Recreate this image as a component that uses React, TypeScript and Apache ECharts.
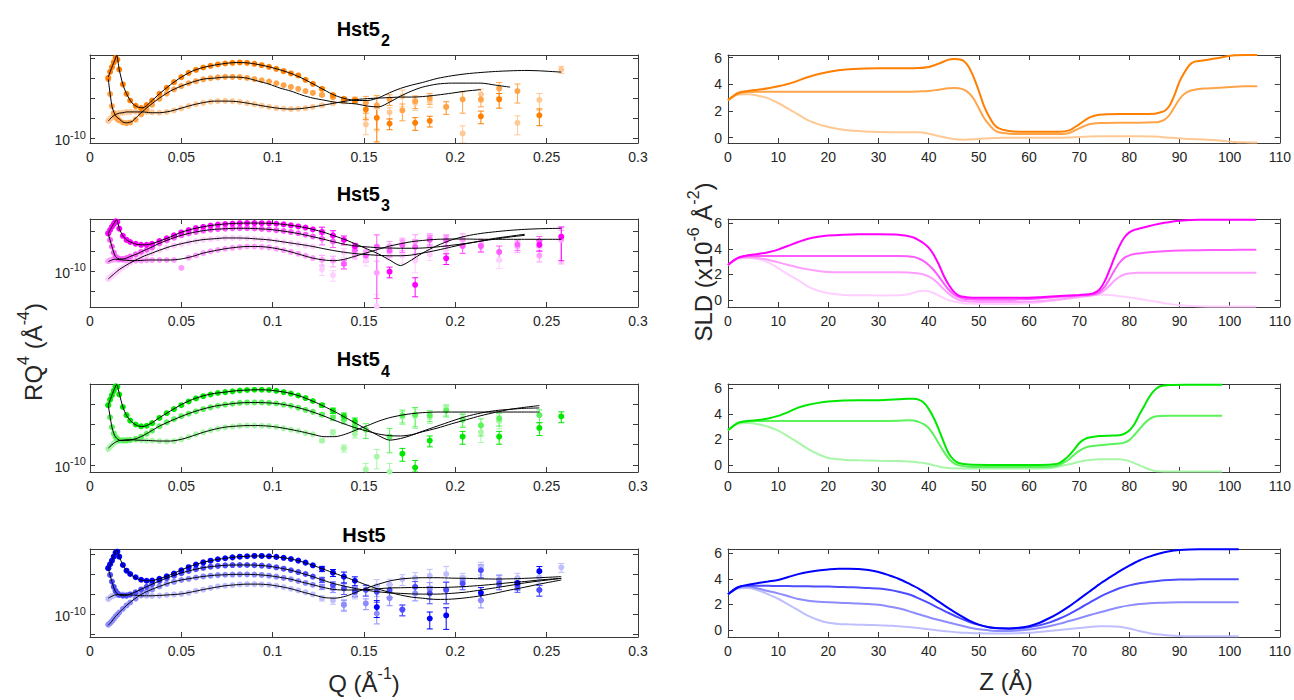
import { useEffect, useRef } from 'react';
import * as echarts from 'echarts';

// ---------------- shared Q grids (Å^-1) ----------------
const qPts = [0.010,0.011,0.012,0.013,0.014,0.015,0.016,0.018,0.020,0.022,0.025,0.028,0.031,0.034,0.038,0.042,0.046,0.050,0.054,0.058,0.062,0.066,0.070,0.074,0.078,0.082,0.086,0.090,0.094,0.098,0.102,0.106,0.110,0.114,0.118,0.122,0.127,0.133,0.139,0.145,0.151,0.157,0.164,0.171,0.178,0.186,0.195,0.204,0.214,0.224,0.234,0.246,0.258];
const qFit = [0.010,0.012,0.0135,0.0146,0.016,0.018,0.020,0.023,0.026,0.029,0.033,0.038,0.044,0.050,0.056,0.062,0.068,0.074,0.080,0.086,0.092,0.098,0.104,0.110,0.116,0.122,0.128,0.134,0.140,0.146,0.152,0.158,0.164,0.170,0.176,0.182,0.190,0.198,0.206,0.214,0.222,0.230,0.238,0.246,0.258];
const ERR_START = 36; // error bars from Q = 0.127 on

// RQ^4 values in units of 1e-10 Å^-4
// ---------------- Hst5_2 ----------------
const hst52DataA = [32.2,45.5,59.6,78,102,92.6,52,22,12.8,8.7,6.4,5.6,6.7,8.7,12.8,18.1,25.1,33.5,43.0,51.1,58.4,64.3,69.5,73.6,76.4,78,76.4,72.1,66.8,60.7,54.1,47.3,41.5,36.9,28.7,22.8,17.1,11.9,9.6,8.9,5.2,3.2,2.3,null,2.4,2.7,null,null,3.5,9.3,null,3.7,null];
const hst52DataB = [30,12.6,6.3,4.2,3.4,3.0,2.75,2.45,2.35,2.45,2.9,3.9,5.2,6.8,9.6,13,16.5,20,23.5,26.5,29.5,31.5,33,34,34,33.5,32,30,28,26,23.5,21,19,17,15,13.5,12,10.5,9,8.4,7.6,6.6,9.3,4.9,8.4,10,6.0,9.3,9.3,17.5,15,null,null];
const hst52DataC = [2.7,3.0,3.3,3.6,3.9,4.1,4.2,4.3,4.5,4.5,4.6,4.5,4.5,4.4,4.3,4.5,4.9,5.5,6.3,7.0,7.6,8.1,8.4,8.5,8.4,8.0,7.5,7.0,6.5,6.0,5.6,5.4,5.3,5.4,5.6,6.0,6.6,7.4,8.2,9.5,2.2,6.0,4.4,11.0,7.6,8.4,6.0,1.3,12.4,null,2.4,9.0,52];
const hst52FitA = [33.5,59.6,87.4,119,52,22,12.8,7.6,6.0,5.7,7.9,12.8,21.5,33.5,47.3,58.4,66.8,73.6,78,76.4,69.5,60.7,51.1,41.5,31.6,22.8,16.2,11.7,9.6,8.7,8.7,10.2,13.6,17.5,21.1,24.6,31.0,36.2,40.6,43.8,46.4,48.2,49.2,48.2,44.7];
const hst52FitB = [30,6.3,4.0,3.35,3.0,2.5,2.4,2.6,3.5,4.7,6.7,10,15.0,20,25.1,29.9,31.6,33.5,33.5,31.6,26.6,22.4,17.8,15.0,11.9,10,8.9,7.9,7.5,7.1,6.3,6.0,7.9,11.2,15.0,18.8,22.4,23.7,23.7,23.7,21.1,18.8,null,null,null];
const hst52FitC = [2.66,3.35,3.76,3.98,4.2,4.3,4.5,4.5,4.5,4.5,4.3,4.3,4.7,5.6,6.7,7.7,8.4,8.4,8.2,7.5,6.7,6.0,5.5,5.3,5.5,6.0,6.7,7.5,8.4,9.2,9.7,10,10.3,10.6,10.6,10.9,11.9,13.3,15.0,16.3,null,null,null,null,null];
const hst52Err = [0.06,0.06,0.08,0.12,0.45,0.75,0.3,0.45,0.35,0.3,0.35,0.55,0.35,0.4,0.5,0.45,0.2];

// ---------------- Hst5_3 ----------------
const hst53DataA = [8.7,10.6,12.8,15.0,17.5,17.0,11.5,7.6,6.0,5.3,4.8,4.5,4.5,4.8,5.6,6.6,7.8,9.2,10.6,11.8,12.8,13.7,14.5,15.0,15.4,15.7,15.8,15.8,15.7,15.6,15.2,14.7,13.9,13.0,12.2,11.0,9.6,7.8,6.0,4.1,null,null,0.96,null,0.45,null,2.07,null,null,null,null,4.5,7.2];
const hst53DataB = [8.7,6.0,4.1,2.9,2.3,2.1,2.0,2.0,2.1,2.3,2.6,3.0,3.4,3.9,4.9,5.8,6.8,7.8,8.7,9.5,10.2,10.8,11.2,11.5,11.7,11.8,11.8,11.6,11.3,11.0,10.5,10.0,9.4,8.8,8.1,7.3,6.4,5.5,1.5,3.3,2.4,4.1,3.2,4.4,4.0,6.0,5.8,4.2,4.2,3.0,4.6,5.6,null];
const hst53DataC = [1.75,1.85,1.9,1.95,1.95,1.95,1.92,1.88,1.85,1.82,1.8,1.82,1.85,1.87,1.88,1.88,1.88,1.2,2.15,2.45,2.8,3.1,3.35,3.6,3.8,3.95,4.1,4.1,4.0,3.9,3.6,3.3,3.0,2.7,2.4,2.1,1.9,1.8,1.5,2.5,3.0,0.9,4.2,4.9,5.4,6.6,6.2,6.3,4.4,null,4.1,2.4,6.0];
const hst53DataD = [0.63,0.70,0.76,0.82,0.90,0.98,1.06,1.22,1.4,1.58,1.85,2.2,2.5,2.8,3.3,3.8,4.3,4.7,5.2,5.6,6.0,6.3,6.5,6.7,6.7,6.7,6.6,6.4,6.2,6.0,5.7,5.3,5.0,4.7,4.3,4.1,1.1,0.79,2.9,2.9,1.9,0.13,2.7,2.4,1.8,2.6,3.3,4.4,5.0,1.9,null,4.0,6.5];
const hst53FitA = [8.7,12.8,16.5,19.3,11.7,7.6,6.0,5.1,4.6,4.5,4.7,5.6,7.1,9.3,11.2,12.8,14.1,15.0,15.6,15.8,15.8,15.6,15.0,13.9,12.6,11.0,9.3,7.5,6.0,4.6,3.5,2.66,1.88,1.36,1.88,2.8,4.3,6.0,7.5,8.7,9.6,10.4,11.0,11.4,11.7];
const hst53FitB = [8.7,4.1,2.5,2.15,2.0,2.0,2.1,2.4,2.7,3.16,3.8,4.9,6.3,7.8,9.1,10.2,11.0,11.4,11.7,11.7,11.4,11.0,10.2,9.3,8.3,7.2,6.2,5.3,4.6,4.2,4.0,3.8,3.75,3.7,3.7,3.75,4.0,4.4,4.9,5.6,6.3,7.1,7.8,null,null];
const hst53FitC = [1.71,1.88,1.96,1.96,1.92,1.88,1.85,1.81,1.81,1.85,1.88,1.88,1.88,2.0,2.3,2.8,3.2,3.6,3.9,4.1,4.1,3.9,3.5,3.0,2.5,2.1,1.88,1.81,2.0,2.4,2.9,3.5,4.2,4.8,5.4,5.8,6.2,6.3,6.3,6.2,6.2,6.2,6.2,6.2,6.2];
const hst53FitD = [0.63,0.76,0.87,0.96,1.08,1.24,1.41,1.68,1.96,2.3,2.7,3.3,4.1,4.8,5.5,6.1,6.4,6.7,6.7,6.6,6.3,6.0,5.5,5.0,4.55,4.1,3.6,3.2,2.9,2.7,2.56,2.46,2.4,2.4,2.5,2.8,3.3,4.0,4.8,5.6,6.6,7.4,8.3,null,null];
const hst53Err = [0.3,0.3,0.25,0.2,0.3,0.95,0.3,0.35,0.5,0.3,0.3,0.35,0.3,0.4,0.3,0.3,0.75];

// ---------------- Hst5_4 ----------------
const hst54DataA = [30,41,53,68,88,85,55,27,17,12.5,10,9.0,9.3,10.8,14.5,19,24,30,37,44,50,55,60,63,66,69,71,72,72,71,68,63,58,52,45,38,30,22,16,12,null,null,null,1.9,0.86,4.0,null,5.0,null,5.0,null,8.2,15.8];
const hst54DataB = [30,15,8.6,6.0,4.9,4.4,4.1,4.0,4.0,4.1,4.4,5.0,5.9,7.0,9.0,11.3,13.5,16,18.5,21,24,26.5,29,31,32.5,34,35,35,35,34,33,31,29,26,23,20.5,17.5,14.7,13,8.5,7.5,null,5.0,16.8,17.5,16.8,22,13,9.5,14,null,17,null];
const hst54DataC = [2.5,2.8,3.1,3.4,3.7,3.9,4.0,4.1,4.2,4.2,4.2,4.1,4.0,4.0,3.9,3.8,3.9,4.3,4.9,5.7,6.4,7.2,7.9,8.5,8.9,9.2,9.4,9.4,9.3,9.1,8.7,8.1,7.5,6.9,6.2,5.7,4.0,6.4,2.6,5.8,0.78,1.6,0.68,15.3,16,15,24,14,6.5,12,null,null,null];
const hst54FitA = [29.9,53.1,78,98,58.4,27.1,16.8,11.4,9.3,8.9,10.4,14.7,21.5,31.0,41.4,51.1,58.4,63.1,68.1,70.8,72.1,70.8,65.6,58.4,48.2,37.6,28.2,20.7,14.7,10.4,7.4,5.3,4.1,4.5,5.4,6.8,9.1,12.1,15.8,19.2,22.0,23.7,25.1,25.6,null];
const hst54FitB = [29.9,8.6,5.3,4.55,4.1,4.0,4.0,4.2,4.6,5.3,6.7,9.1,12.1,15.8,20.0,24.2,28.2,31.0,33.5,34.8,34.8,34.1,32.2,28.7,24.6,20.3,16.2,12.6,10.0,8.1,6.8,5.8,5.3,5.2,5.6,6.6,8.1,10.4,13.1,16.5,20.0,23.7,26.6,29.3,null];
const hst54FitC = [2.6,3.16,3.55,3.76,4.0,4.1,4.2,4.2,4.1,4.06,4.0,3.9,3.9,4.3,5.2,6.4,7.6,8.6,9.1,9.4,9.4,9.1,8.4,7.5,6.6,5.7,5.0,5.0,5.8,7.4,9.4,12.1,14.7,16.8,18.5,19.6,20.3,20.3,20.3,20.3,20.3,20.3,20.3,20.3,null];
const hst54Err = [0.1,0.15,0.2,0.2,0.4,0.5,0.6,0.35,0.5,0.3,0.3,0.35,0.45,0.35,0.3,0.35,0.3];

// ---------------- Hst5 ----------------
const hst5DataA = [14,17.5,21.5,27,34,36,27,16.8,12.1,10,8.3,7.2,6.8,6.9,7.6,8.8,10.3,12.4,14.8,17.2,19.5,21.5,23.3,24.7,26,27,27.7,28.2,28.2,27.7,26.7,25.3,23.7,21.6,19.2,16.5,13.5,10.8,8.6,6.8,null,1.5,null,null,null,0.78,0.93,null,3.4,null,6.0,11.8,null];
const hst5DataB = [14,9.5,6.5,4.8,3.8,3.3,3.0,2.9,2.9,3.1,3.5,4.1,4.8,5.6,6.7,7.9,9.1,10.5,11.9,13.2,14.3,15.2,15.9,16.4,16.7,16.8,16.8,16.6,16.2,15.6,14.7,13.6,12.4,11.2,10.0,8.6,7.2,5.3,4.4,3.6,4.0,3.6,4.0,1.3,4.8,3.3,4.0,5.8,12.4,5.8,5.0,4.0,null];
const hst5DataC = [0.55,0.6,0.67,0.76,0.88,0.97,1.1,1.36,1.65,1.95,2.45,3.0,3.6,4.1,4.9,5.7,6.4,7.1,7.6,8.2,8.7,9.1,9.4,9.6,9.7,9.8,9.8,9.7,9.5,9.1,8.6,8.0,7.4,6.7,6.0,5.4,4.8,4.3,1.7,3.8,1.85,1.04,2.5,1.3,3.3,4.2,4.1,6.8,2.2,7.0,5.6,4.0,null];
const hst5DataD = [2.4,2.6,2.8,2.9,3.0,3.05,3.1,3.1,3.05,3.0,2.95,2.9,2.87,2.87,2.9,3.0,3.1,3.2,3.4,3.8,4.1,4.5,4.9,5.1,5.3,5.5,5.6,5.6,5.5,5.4,5.1,4.7,4.3,3.9,3.5,3.1,2.5,2.2,1.8,3.2,4.2,5.0,5.5,7.4,8.0,9.0,10.0,8.0,14.5,7.5,8.0,8.4,14.7];
const hst5FitA = [13.9,21.5,31.6,39.8,27.1,16.8,12.1,9.1,7.6,6.9,6.8,7.6,9.6,12.6,16.2,19.6,22.4,24.6,26.6,27.7,28.2,27.7,26.1,23.7,20.3,16.5,13.1,10.4,8.3,6.6,5.2,4.2,3.5,3.0,2.66,2.5,2.33,2.37,2.56,2.87,3.35,4.0,4.7,5.6,7.1];
const hst5FitB = [13.9,6.4,4.0,3.3,3.0,2.87,2.93,3.3,3.76,4.4,5.3,6.7,8.6,10.6,12.6,14.4,15.6,16.5,16.8,16.8,16.5,15.6,14.1,12.4,10.4,8.6,6.9,5.7,4.9,4.3,3.9,3.6,3.4,3.3,3.2,3.16,3.16,3.3,3.55,4.0,4.55,5.2,6.0,6.7,7.8];
const hst5FitC = [0.53,0.67,0.83,0.94,1.1,1.36,1.65,2.15,2.7,3.3,4.0,4.9,6.1,7.1,7.9,8.7,9.3,9.6,9.8,9.8,9.6,9.1,8.3,7.4,6.3,5.4,4.6,4.1,4.0,4.0,4.1,4.3,4.5,4.55,4.6,4.6,4.6,4.7,4.9,5.2,5.6,6.1,6.5,7.1,7.8];
const hst5FitD = [2.5,2.8,3.0,3.05,3.1,3.1,3.05,3.0,2.93,2.87,2.87,2.93,3.05,3.2,3.6,4.1,4.6,5.1,5.4,5.6,5.6,5.4,4.9,4.3,3.6,3.05,2.6,2.5,2.8,3.55,4.55,5.6,6.7,7.5,7.9,8.1,8.1,7.9,7.8,7.6,7.5,7.6,7.8,8.1,8.6];
const hst5Err = [0.15,0.2,0.3,0.25,0.3,0.45,0.35,0.3,0.35,0.45,0.55,0.3,0.35,0.3,0.3,0.3,0.25];

// ---------------- SLD profiles (x1e-6 Å^-2) vs Z (Å) ----------------
const zHst52 = [0,2,4,6,8,10,13,16,19,22,25,30,35,38,40,42,44,45,46,47,48,49,50,51,52,53,54,56,58,62,66,68,70,72,74,78,82,85,86,87,88,89,90,91,92,93,95,98,101,103,105.5];
const sldHst52A = [2.8,3.35,3.5,3.6,3.7,3.85,4.15,4.55,4.85,5.05,5.15,5.2,5.2,5.22,5.3,5.55,5.85,5.9,5.88,5.75,5.3,4.5,3.5,2.4,1.6,1.0,0.7,0.5,0.45,0.45,0.45,0.55,1.0,1.5,1.72,1.78,1.78,1.8,1.88,2.0,2.4,3.2,4.2,4.9,5.45,5.7,5.8,6.0,6.18,6.2,6.2];
const sldHst52B = [2.8,3.3,3.42,3.45,3.45,3.45,3.45,3.45,3.45,3.45,3.45,3.45,3.45,3.47,3.5,3.6,3.7,3.72,3.7,3.6,3.35,2.9,2.2,1.5,1.0,0.6,0.4,0.3,0.28,0.28,0.28,0.35,0.7,1.0,1.1,1.12,1.12,1.15,1.2,1.35,1.7,2.3,2.9,3.3,3.5,3.6,3.68,3.75,3.82,3.85,3.85];
const sldHst52C = [2.8,3.22,3.25,3.15,2.95,2.6,1.95,1.3,0.9,0.65,0.52,0.43,0.4,0.4,0.3,0.12,-0.05,-0.1,-0.14,-0.15,-0.14,-0.12,-0.1,-0.07,-0.05,-0.03,-0.02,0,0,0,0,0.02,0.05,0.08,0.1,0.1,0.1,0.08,0.06,0.03,0,-0.02,-0.05,-0.08,-0.1,-0.11,-0.13,-0.22,-0.32,-0.35,-0.37];

const zHst53 = [0,2,4,6,8,10,12,14,16,18,20,23,26,30,34,36,37,38,39,40,41,42,43,44,45,46,47,48,50,54,58,62,66,70,72,73,74,75,76,77,78,79,80,81,82,84,87,90,94,98,102,105.3];
const sldHst53A = [2.75,3.3,3.5,3.6,3.75,3.95,4.25,4.55,4.8,4.95,5.05,5.12,5.15,5.15,5.12,5.0,4.9,4.7,4.45,4.1,3.55,2.8,1.9,1.2,0.65,0.35,0.25,0.2,0.18,0.18,0.18,0.22,0.32,0.4,0.45,0.55,0.8,1.4,2.3,3.3,4.2,4.9,5.3,5.5,5.6,5.8,6.05,6.22,6.3,6.3,6.3,6.3];
const sldHst53B = [2.75,3.3,3.42,3.45,3.45,3.45,3.45,3.45,3.45,3.45,3.45,3.45,3.45,3.45,3.45,3.42,3.38,3.25,3.05,2.75,2.35,1.85,1.3,0.8,0.45,0.22,0.1,0.05,0.02,0.02,0.05,0.12,0.25,0.35,0.4,0.45,0.6,1.0,1.6,2.3,2.9,3.3,3.5,3.6,3.65,3.75,3.83,3.88,3.9,3.92,3.93,3.93];
const sldHst53C = [2.75,3.28,3.35,3.3,3.15,2.95,2.75,2.55,2.4,2.28,2.2,2.18,2.18,2.18,2.17,2.15,2.12,2.08,2.0,1.85,1.6,1.25,0.85,0.5,0.2,0.02,-0.08,-0.12,-0.15,-0.16,-0.15,-0.1,0.05,0.25,0.33,0.38,0.5,0.75,1.1,1.5,1.8,2.0,2.08,2.12,2.13,2.14,2.14,2.13,2.13,2.13,2.13,2.13];
const sldHst53D = [2.75,3.25,3.3,3.2,2.95,2.5,2.0,1.55,1.05,0.72,0.52,0.4,0.37,0.36,0.37,0.45,0.58,0.68,0.72,0.68,0.55,0.35,0.15,-0.02,-0.12,-0.2,-0.25,-0.28,-0.3,-0.32,-0.3,-0.2,0.0,0.22,0.35,0.4,0.42,0.42,0.4,0.36,0.3,0.25,0.2,0.15,0.08,-0.05,-0.25,-0.42,-0.5,-0.52,-0.52,-0.52];

const zHst54 = [0,2,4,6,8,10,12,14,16,18,20,23,26,30,34,36,37,38,39,40,41,42,43,44,45,46,48,52,56,60,64,65,66,67,68,69,70,71,72,74,76,78,79,80,81,82,83,84,85,86,88,91,94,98.5];
const sldHst54A = [2.72,3.3,3.45,3.52,3.65,3.85,4.15,4.5,4.72,4.87,4.97,5.05,5.08,5.08,5.15,5.2,5.2,5.12,4.9,4.4,3.7,2.8,1.8,0.9,0.4,0.15,0.03,0.0,0.0,0.0,0.02,0.05,0.15,0.4,0.75,1.2,1.7,2.0,2.15,2.27,2.3,2.33,2.45,2.7,3.2,3.95,4.65,5.35,5.85,6.15,6.28,6.3,6.3,6.3];
const sldHst54B = [2.72,3.28,3.42,3.45,3.45,3.45,3.45,3.45,3.45,3.45,3.45,3.45,3.45,3.45,3.47,3.5,3.48,3.38,3.2,2.9,2.35,1.7,1.05,0.5,0.15,-0.03,-0.13,-0.16,-0.16,-0.16,-0.14,-0.1,0.0,0.2,0.45,0.8,1.1,1.32,1.45,1.55,1.62,1.68,1.75,1.95,2.35,2.8,3.25,3.6,3.78,3.84,3.86,3.86,3.86,3.86];
const sldHst54C = [2.72,3.25,3.3,3.2,3.0,2.7,2.25,1.75,1.25,0.85,0.55,0.42,0.37,0.33,0.31,0.28,0.25,0.2,0.15,0.08,-0.02,-0.12,-0.2,-0.24,-0.26,-0.27,-0.27,-0.27,-0.27,-0.27,-0.25,-0.2,-0.12,-0.02,0.05,0.15,0.25,0.33,0.4,0.45,0.45,0.45,0.4,0.3,0.15,-0.02,-0.2,-0.35,-0.45,-0.5,-0.52,-0.52,-0.52,-0.52];

const zHst5 = [0,2,4,6,8,10,12,14,16,18,20,22,24,26,28,30,32,34,36,38,40,42,44,46,48,50,52,54,56,58,60,62,64,66,68,70,72,74,76,78,80,82,84,86,88,90,92,94,97,101.8];
const sldHst5A = [2.8,3.35,3.55,3.68,3.8,3.92,4.15,4.38,4.55,4.67,4.75,4.8,4.8,4.78,4.7,4.55,4.3,4.02,3.65,3.25,2.75,2.22,1.7,1.2,0.75,0.42,0.22,0.13,0.12,0.18,0.3,0.55,0.92,1.35,1.85,2.42,3.0,3.58,4.1,4.6,5.05,5.45,5.75,6.0,6.17,6.27,6.32,6.33,6.33,6.33];
const sldHst5B = [2.8,3.35,3.47,3.47,3.46,3.45,3.44,3.43,3.42,3.41,3.4,3.38,3.36,3.33,3.3,3.25,3.15,3.0,2.8,2.48,2.12,1.72,1.33,0.97,0.65,0.4,0.22,0.13,0.1,0.12,0.22,0.36,0.58,0.88,1.25,1.68,2.12,2.58,2.95,3.27,3.5,3.67,3.78,3.87,3.92,3.95,3.96,3.97,3.97,3.97];
const sldHst5C = [2.8,3.3,3.4,3.25,3.05,2.87,2.65,2.43,2.3,2.22,2.17,2.14,2.11,2.08,2.03,1.97,1.85,1.7,1.48,1.23,1.0,0.78,0.58,0.39,0.2,0.06,-0.03,-0.08,-0.08,-0.04,0.03,0.15,0.3,0.48,0.7,0.92,1.15,1.37,1.58,1.78,1.93,2.03,2.1,2.14,2.16,2.17,2.17,2.17,2.17,2.17];
const sldHst5D = [2.8,3.25,3.3,3.12,2.8,2.45,2.0,1.55,1.1,0.78,0.56,0.47,0.44,0.42,0.4,0.38,0.34,0.3,0.24,0.15,0.06,-0.04,-0.12,-0.19,-0.23,-0.26,-0.27,-0.27,-0.27,-0.26,-0.22,-0.15,-0.08,-0.01,0.07,0.15,0.23,0.29,0.3,0.25,0.12,-0.08,-0.25,-0.36,-0.43,-0.47,-0.49,-0.5,-0.5,-0.5];

// ---------------- colours ----------------
const colHst52 = ['#FF7F00', '#FFA448', '#FFC995'];
const colHst53 = ['#FF00FF', '#FF5CFF', '#FF9EFF', '#FFD0FF'];
const colHst54 = ['#00E800', '#5CF25C', '#A8F7A8'];
const colHst5 = ['#0000FF', '#4D4DFF', '#8C8CFF', '#BFBFFF'];

const panels = [
  { title: 'Hst5', sub: '2', yMin: 0.75, yMax: 120, err: hst52Err, colors: colHst52,
    data: [hst52DataA, hst52DataB, hst52DataC], fits: [hst52FitA, hst52FitB, hst52FitC],
    z: zHst52, sld: [sldHst52A, sldHst52B, sldHst52C], sMin: -0.4, sMax: 6.2 },
  { title: 'Hst5', sub: '3', yMin: 0.125, yMax: 20, err: hst53Err, colors: colHst53,
    data: [hst53DataA, hst53DataB, hst53DataC, hst53DataD], fits: [hst53FitA, hst53FitB, hst53FitC, hst53FitD],
    z: zHst53, sld: [sldHst53A, sldHst53B, sldHst53C, sldHst53D], sMin: -0.55, sMax: 6.35 },
  { title: 'Hst5', sub: '4', yMin: 0.67, yMax: 100, err: hst54Err, colors: colHst54,
    data: [hst54DataA, hst54DataB, hst54DataC], fits: [hst54FitA, hst54FitB, hst54FitC],
    z: zHst54, sld: [sldHst54A, sldHst54B, sldHst54C], sMin: -0.55, sMax: 6.35 },
  { title: 'Hst5', sub: '', yMin: 0.27, yMax: 42, err: hst5Err, colors: colHst5,
    data: [hst5DataA, hst5DataB, hst5DataC, hst5DataD], fits: [hst5FitA, hst5FitB, hst5FitC, hst5FitD],
    z: zHst5, sld: [sldHst5A, sldHst5B, sldHst5C, sldHst5D], sMin: -0.55, sMax: 6.35 },
];

// ---------------- layout / style ----------------
const FONT = '"Liberation Sans", Arial, Helvetica, sans-serif';
const AXIS_COLOR = '#3a3a3a';
const LABEL_COLOR = '#262626';
const LEFT_X = 90, LEFT_W = 548, RIGHT_X = 728, RIGHT_W = 557, GRID_H = 88;
const ROW_TOPS = [55, 219, 384, 549];
const TITLE_Y = [29, 194, 359, 535];
const SUB_Y = [40, 205, 371, 0];
const SQ10 = Math.sqrt(10);

const baseAxisStyle = (show: boolean) => ({
  axisLine: { show: true, onZero: false, lineStyle: { color: AXIS_COLOR, width: 1 } },
  axisTick: { show: true, inside: true, length: 5, lineStyle: { color: AXIS_COLOR, width: 1 } },
  splitLine: { show: false },
  minorTick: { show: false },
  axisLabel: { show, color: LABEL_COLOR, fontSize: 14, fontFamily: FONT },
});

function qAxis(gridIndex: number, position: string, show: boolean) {
  const b: any = baseAxisStyle(show);
  b.axisLabel.margin = 7;
  return { type: 'value', gridIndex, position, min: 0, max: 0.3, interval: 0.05, ...b };
}
function zAxis(gridIndex: number, position: string, show: boolean) {
  const b: any = baseAxisStyle(show);
  b.axisLabel.margin = 7;
  return { type: 'value', gridIndex, position, min: 0, max: 110, interval: 10, ...b };
}
function rAxis(gridIndex: number, position: string, show: boolean, min: number, max: number) {
  const b: any = baseAxisStyle(show);
  b.axisLabel.margin = 4;
  b.axisLabel.formatter = (v: number) => (Math.abs(Math.log10(v)) < 0.05 ? '{b|10}{s|-10}' : '');
  b.axisLabel.rich = {
    b: { fontSize: 14, fontFamily: FONT, color: LABEL_COLOR, lineHeight: 18, verticalAlign: 'bottom' },
    s: { fontSize: 11, fontFamily: FONT, color: LABEL_COLOR, lineHeight: 11, verticalAlign: 'top' },
  };
  return { type: 'log', logBase: SQ10, gridIndex, position, min, max, ...b };
}
function sAxis(gridIndex: number, position: string, show: boolean, min: number, max: number) {
  const b: any = baseAxisStyle(show);
  b.axisLabel.margin = 6;
  b.axisLabel.showMinLabel = false;
  b.axisLabel.showMaxLabel = false;
  b.axisLabel.formatter = (v: number) => {
    const r = Math.round(v);
    return Math.abs(v - r) < 1e-6 && r % 2 === 0 ? String(r) : '';
  };
  return { type: 'value', gridIndex, position, min, max, splitNumber: 3, ...b };
}

function pairs(xs: number[], ys: (number | null)[]) {
  const out: number[][] = [];
  ys.forEach((y, i) => { if (y !== null && y !== undefined) out.push([xs[i], y]); });
  return out;
}

function buildOption() {
  const grid: any[] = [], xAxis: any[] = [], yAxis: any[] = [], series: any[] = [], graphic: any[] = [];

  panels.forEach((p, r) => {
    const top = ROW_TOPS[r];
    const gL = grid.length; grid.push({ left: LEFT_X, top, width: LEFT_W, height: GRID_H });
    const gR = grid.length; grid.push({ left: RIGHT_X, top, width: RIGHT_W, height: GRID_H });

    const xL = xAxis.length; xAxis.push(qAxis(gL, 'bottom', true)); xAxis.push(qAxis(gL, 'top', false));
    const yL = yAxis.length; yAxis.push(rAxis(gL, 'left', true, p.yMin, p.yMax)); yAxis.push(rAxis(gL, 'right', false, p.yMin, p.yMax));
    const xR = xAxis.length; xAxis.push(zAxis(gR, 'bottom', true)); xAxis.push(zAxis(gR, 'top', false));
    const yR = yAxis.length; yAxis.push(sAxis(gR, 'left', true, p.sMin, p.sMax)); yAxis.push(sAxis(gR, 'right', false, p.sMin, p.sMax));

    // data + error bars, lightest first
    for (let k = p.data.length - 1; k >= 0; k--) {
      const color = p.colors[k];
      const vals = p.data[k];
      const errs: number[][] = [];
      vals.forEach((v, i) => {
        if (v === null || i < ERR_START) return;
        const e = p.err[i - ERR_START];
        const lo = Math.max(v * (1 - e), p.yMin);
        const hi = Math.min(v * (1 + e), p.yMax);
        errs.push([qPts[i], lo, hi]);
      });
      series.push({
        type: 'custom', xAxisIndex: xL, yAxisIndex: yL, data: errs, silent: true, z: 2, clip: true,
        encode: { x: 0, y: [1, 2] },
        renderItem: (_params: any, api: any) => {
          const a = api.coord([api.value(0), api.value(1)]);
          const b = api.coord([api.value(0), api.value(2)]);
          const st = { stroke: color, lineWidth: 1 };
          return {
            type: 'group',
            children: [
              { type: 'line', shape: { x1: a[0], y1: a[1], x2: b[0], y2: b[1] }, style: st },
              { type: 'line', shape: { x1: a[0] - 3, y1: a[1], x2: a[0] + 3, y2: a[1] }, style: st },
              { type: 'line', shape: { x1: b[0] - 3, y1: b[1], x2: b[0] + 3, y2: b[1] }, style: st },
            ],
          };
        },
      });
      series.push({
        type: 'scatter', xAxisIndex: xL, yAxisIndex: yL, data: pairs(qPts, vals), silent: true, z: 3,
        symbol: 'circle', symbolSize: 6, itemStyle: { color, opacity: 1 },
      });
    }
    p.fits.forEach((f) => {
      series.push({
        type: 'line', xAxisIndex: xL, yAxisIndex: yL, data: pairs(qFit, f), silent: true, z: 4,
        symbol: 'none', showSymbol: false, smooth: 0.25, lineStyle: { color: '#000', width: 1 },
      });
    });
    // SLD profiles, lightest first
    for (let k = p.sld.length - 1; k >= 0; k--) {
      series.push({
        type: 'line', xAxisIndex: xR, yAxisIndex: yR, data: pairs(p.z, p.sld[k]), silent: true, z: 3,
        symbol: 'none', showSymbol: false, smooth: 0.3, lineStyle: { color: p.colors[k], width: 2 },
      });
    }

    // titles
    if (p.sub) {
      graphic.push({ type: 'text', x: 380, y: TITLE_Y[r], silent: true,
        style: { text: p.title, fill: '#000', fontSize: 20, fontWeight: 'bold', fontFamily: FONT, align: 'right', verticalAlign: 'middle' } });
      graphic.push({ type: 'text', x: 381, y: SUB_Y[r], silent: true,
        style: { text: p.sub, fill: '#000', fontSize: 16, fontWeight: 'bold', fontFamily: FONT, align: 'left', verticalAlign: 'middle' } });
    } else {
      graphic.push({ type: 'text', x: 364, y: TITLE_Y[r], silent: true,
        style: { text: p.title, fill: '#000', fontSize: 20, fontWeight: 'bold', fontFamily: FONT, align: 'center', verticalAlign: 'middle' } });
    }
  });

  const richLabel = {
    a: { fontSize: 24, fontFamily: FONT, fill: LABEL_COLOR, color: LABEL_COLOR, lineHeight: 30, verticalAlign: 'bottom' },
    s: { fontSize: 16, fontFamily: FONT, fill: LABEL_COLOR, color: LABEL_COLOR, lineHeight: 18, verticalAlign: 'top' },
  };
  graphic.push({ type: 'text', x: 30, y: 352, rotation: Math.PI / 2, silent: true,
    style: { text: '{a|RQ}{s|4}{a| (Å}{s|-4}{a|)}', rich: richLabel, align: 'center', verticalAlign: 'middle' } });
  graphic.push({ type: 'text', x: 700, y: 262, rotation: Math.PI / 2, silent: true,
    style: { text: '{a|SLD (x10}{s|-6}{a| Å}{s|-2}{a|)}', rich: richLabel, align: 'center', verticalAlign: 'middle' } });
  graphic.push({ type: 'text', x: 364, y: 680, silent: true,
    style: { text: '{a|Q (Å}{s|-1}{a|)}', rich: richLabel, align: 'center', verticalAlign: 'middle' } });
  graphic.push({ type: 'text', x: 1006, y: 678, silent: true,
    style: { text: '{a|Z (Å)}', rich: richLabel, align: 'center', verticalAlign: 'middle' } });

  return { animation: false, backgroundColor: '#ffffff', grid, xAxis, yAxis, series, graphic };
}

export default function App() {
  const ref = useRef<HTMLDivElement>(null);
  useEffect(() => {
    if (!ref.current) return;
    const chart = echarts.init(ref.current, null, { renderer: 'svg' });
    chart.setOption(buildOption() as any);
    return () => chart.dispose();
  }, []);
  return <div ref={ref} style={{ position: 'fixed', left: 0, top: 0, width: 1294, height: 700, background: '#fff' }} />;
}
